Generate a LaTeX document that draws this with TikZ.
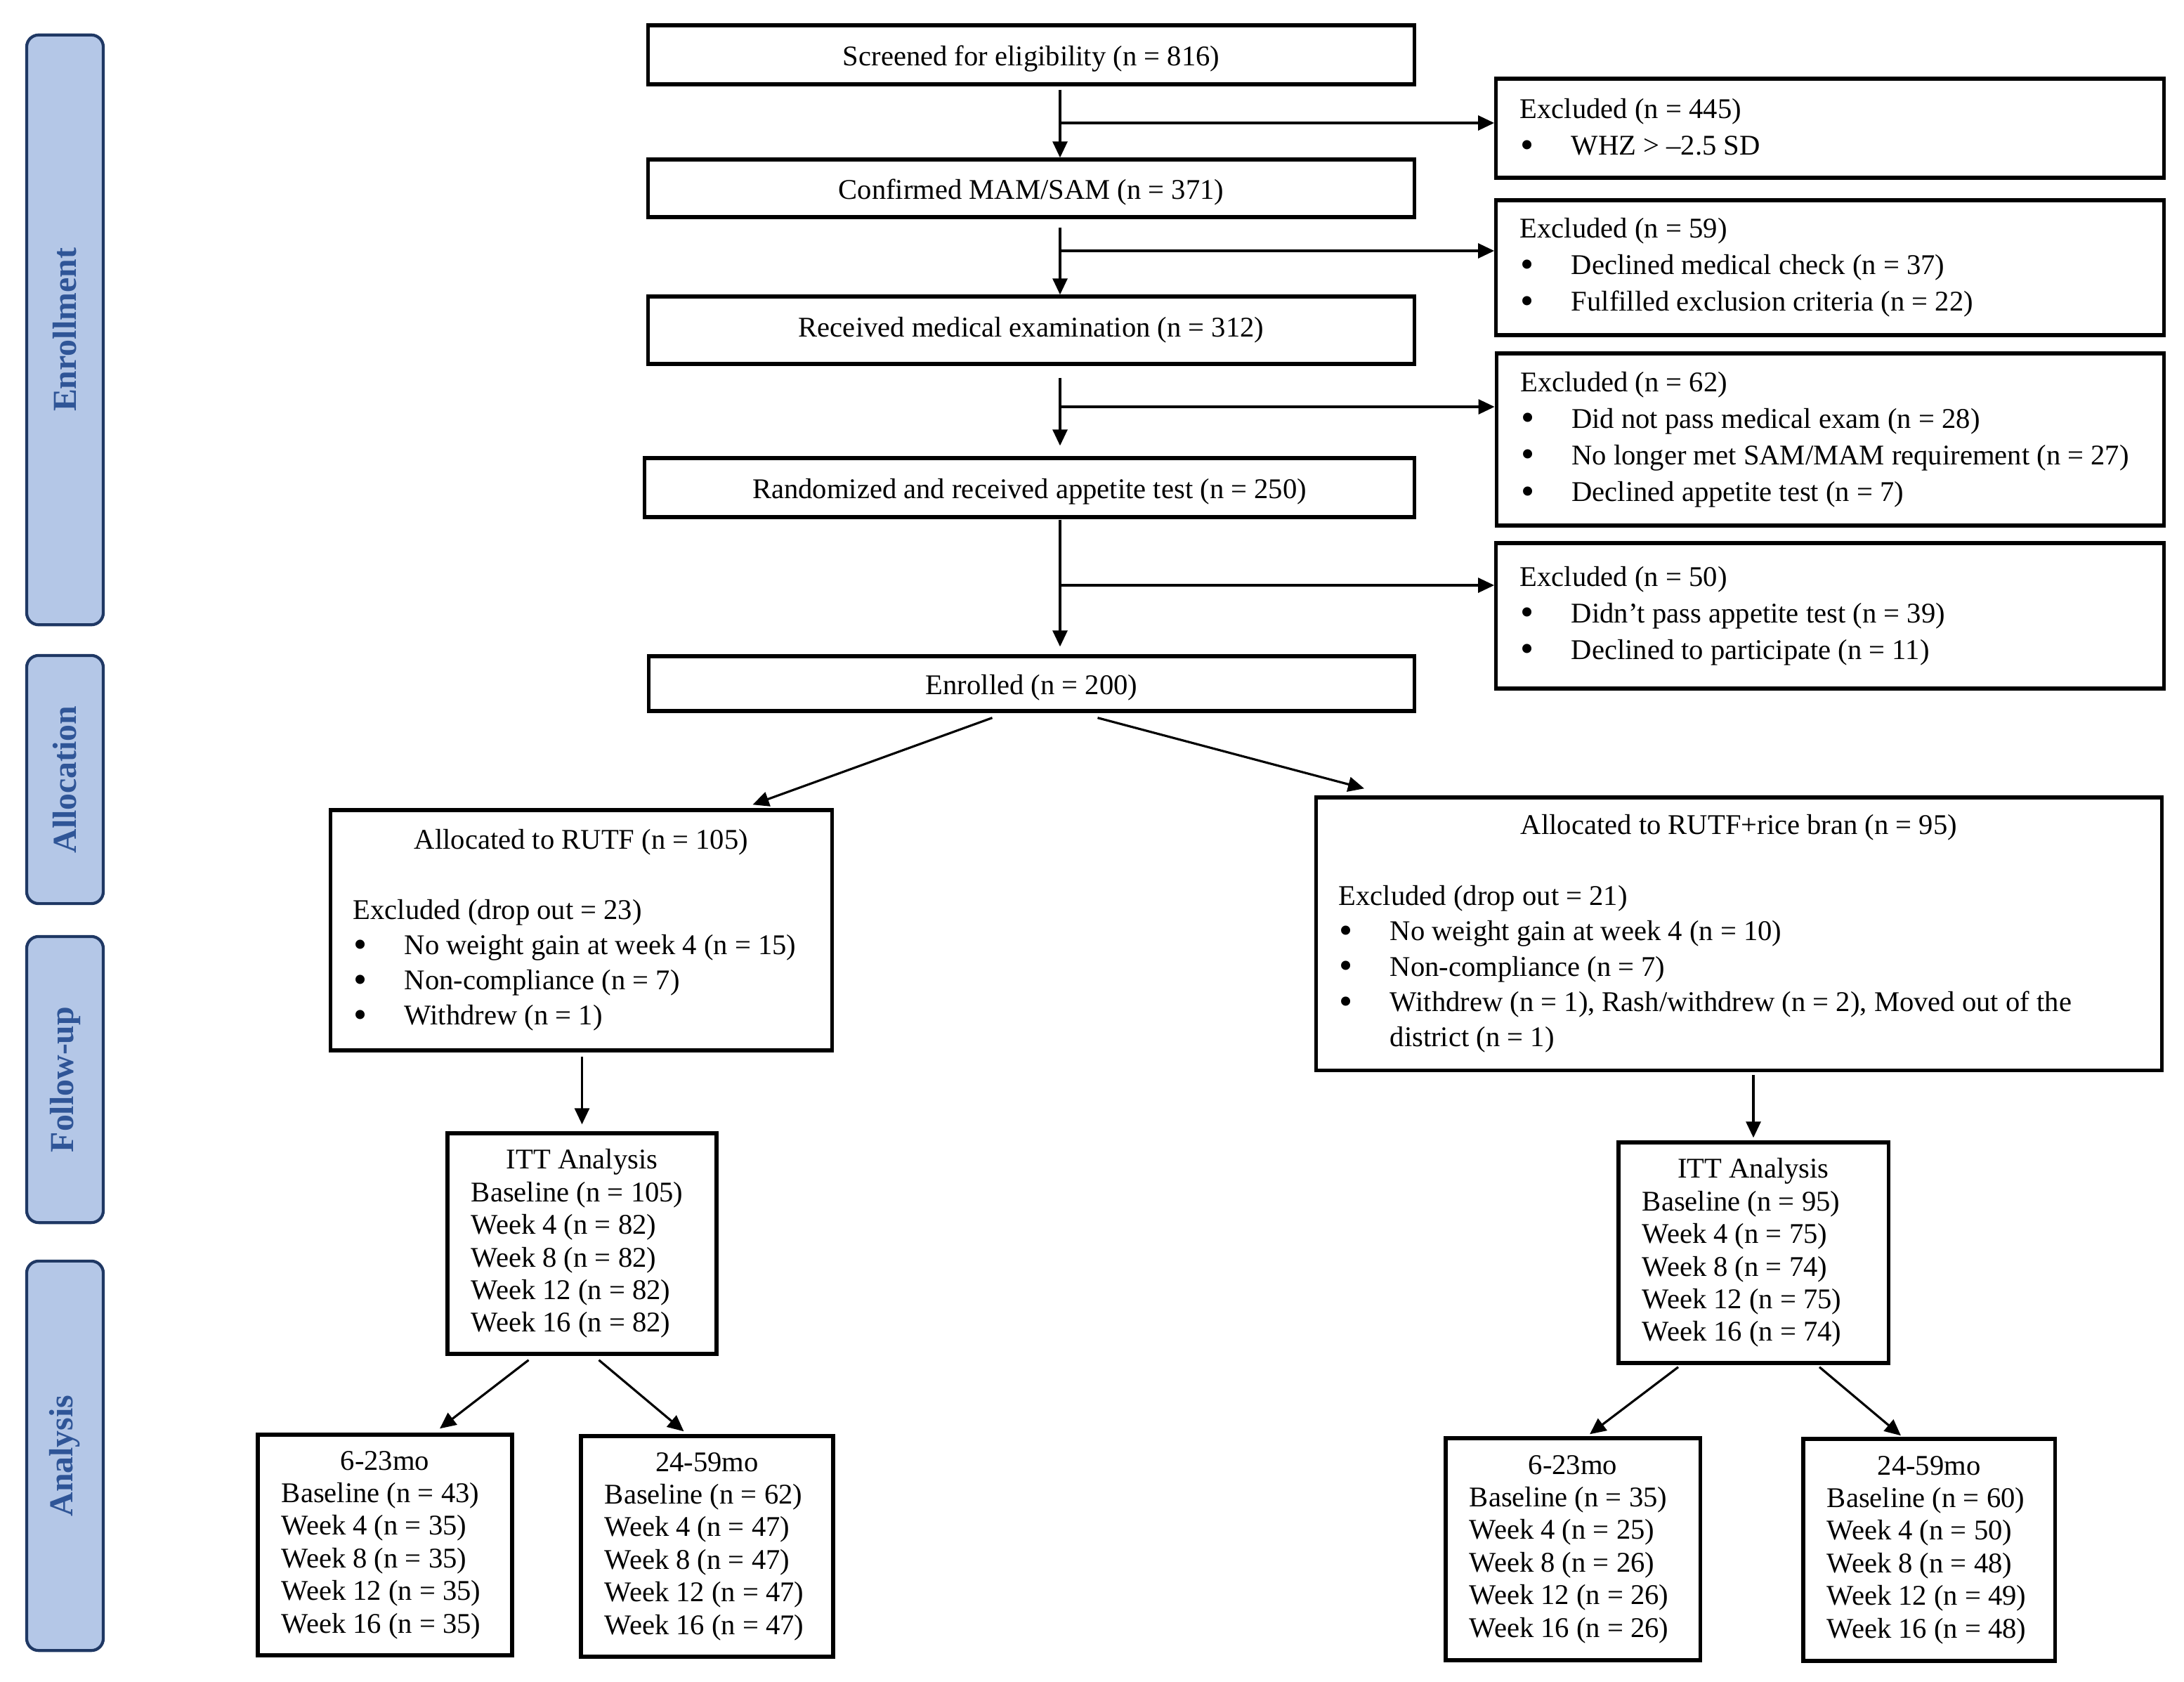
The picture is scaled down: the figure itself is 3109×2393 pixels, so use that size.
\documentclass[tikz,border=0pt]{standalone}
\usepackage{fontspec}
\setmainfont{Liberation Serif}
\usetikzlibrary{arrows.meta,calc}
\definecolor{sidefill}{RGB}{180,199,231}
\definecolor{sideline}{RGB}{31,56,100}
\definecolor{sidetext}{RGB}{47,85,151}
\newcommand{\bigbul}{\raisebox{-0.09em}{\fontsize{15.5pt}{15.5pt}\selectfont\textbullet}}
\newcommand{\bitem}[1]{\makebox[0.73cm][l]{\hspace*{0.01cm}\bigbul}#1}
\newcommand{\ctitle}[1]{\makebox[\hsize][c]{#1}}
\begin{document}
\begin{tikzpicture}[x=0.01cm,y=-0.01cm,
  every node/.style={font=\fontsize{11.55pt}{14.8pt}\selectfont},
  mainbox/.style={draw,line width=1.5pt,inner sep=0pt,minimum width=10.9cm},
  lowtext/.style={text height=10.6pt,text depth=2pt},
  exbox/.style={draw,line width=1.5pt,align=flush left,text width=8.82cm,inner xsep=0.34cm,inner ysep=0pt},
  allocbox/.style={draw,line width=1.5pt,align=flush left,inner xsep=0.32cm,inner ysep=0pt,
     font=\fontsize{11.55pt}{14.3pt}\selectfont},
  agebox/.style={draw,line width=1.5pt,align=flush left,inner xsep=0.34cm,inner ysep=0pt,minimum height=3.14cm,
     font=\fontsize{11.55pt}{13.2pt}\selectfont},
  sidebox/.style={draw=sideline,line width=1.2pt,fill=sidefill,rounded corners=0.17cm,rotate=90,
     minimum height=1.09cm,inner sep=0pt,text=sidetext,font=\fontsize{13.6pt}{16pt}\selectfont\bfseries},
  conn/.style={line width=0.9pt,-{Triangle[length=0.23cm,width=0.21cm]}}
]
\fill[white] (0,0) rectangle (3109,2393);
\useasboundingbox (0,0) rectangle (3109,2393);

% side labels
\node[sidebox,minimum width=8.39cm] (sEnr) at (92.5,469.5) {Enrollment};
\node[sidebox,minimum width=3.53cm] (sAll) at (92.5,1109.5) {Allocation};
\node[sidebox,minimum width=4.07cm] (sFol) at (92.5,1536.5) {Follow-up};
\node[sidebox,minimum width=5.54cm] (sAna) at (92.5,2072) {Analysis};

% main column
\node[mainbox,lowtext,minimum height=0.84cm] (scr) at (1468,78) {Screened for eligibility (n = 816)};
\node[mainbox,lowtext,minimum height=0.82cm] (conf) at (1468,268) {Confirmed MAM/SAM (n = 371)};
\node[mainbox,minimum height=0.96cm] (rec) at (1468,470) {Received medical examination (n = 312)};
\node[mainbox,lowtext,minimum height=0.84cm,minimum width=10.95cm] (rand) at (1465.5,694) {Randomized and received appetite test (n = 250)};
\node[mainbox,lowtext,minimum height=0.78cm] (enr) at (1468.5,973) {Enrolled (n = 200)};

% excluded boxes
\node[exbox,minimum height=1.41cm] (ex1) at (2605,182.5) {Excluded (n = 445)\\
\bitem{WHZ > –2.5 SD}};
\node[exbox,minimum height=1.92cm] (ex2) at (2605,381) {Excluded (n = 59)\\
\bitem{Declined medical check (n = 37)}\\
\bitem{Fulfilled exclusion criteria (n = 22)}};
\node[exbox,minimum height=2.45cm] (ex3) at (2605.5,625.5) {Excluded (n = 62)\\
\bitem{Did not pass medical exam (n = 28)}\\
\bitem{No longer met SAM/MAM requirement (n = 27)}\\
\bitem{Declined appetite test (n = 7)}};
\node[exbox,minimum height=2.07cm] (ex4) at (2605,876.5) {Excluded (n = 50)\\
\bitem{Didn’t pass appetite test (n = 39)}\\
\bitem{Declined to participate (n = 11)}};

% allocation boxes
\node[allocbox,text width=6.49cm,minimum height=3.42cm] (rutf) at (827.5,1324) {\ctitle{Allocated to RUTF (n = 105)}\\[14pt]
Excluded (drop out = 23)\\
\bitem{No weight gain at week 4 (n = 15)}\\
\bitem{Non-compliance (n = 7)}\\
\bitem{Withdrew (n = 1)}};
\node[allocbox,text width=11.39cm,minimum height=3.88cm] (rice) at (2475.5,1329) {\ctitle{Allocated to RUTF+rice bran (n = 95)}\\[14.3pt]
Excluded (drop out = 21)\\
\bitem{No weight gain at week 4 (n = 10)}\\
\bitem{Non-compliance (n = 7)}\\
\bitem{Withdrew (n = 1), Rash/withdrew (n = 2), Moved out of the}\\
\hspace*{0.73cm}district (n = 1)};

% ITT boxes
\node[agebox,text width=3.15cm] (ittL) at (828.5,1770) {\ctitle{ITT Analysis}\\
Baseline (n = 105)\\ Week 4 (n = 82)\\ Week 8 (n = 82)\\ Week 12 (n = 82)\\ Week 16 (n = 82)};
\node[agebox,text width=3.16cm] (ittR) at (2496,1783) {\ctitle{ITT Analysis}\\
Baseline (n = 95)\\ Week 4 (n = 75)\\ Week 8 (n = 74)\\ Week 12 (n = 75)\\ Week 16 (n = 74)};

% age group boxes
\node[agebox,text width=2.94cm] (L1) at (548,2199) {\ctitle{6-23mo}\\
Baseline (n = 43)\\ Week 4 (n = 35)\\ Week 8 (n = 35)\\ Week 12 (n = 35)\\ Week 16 (n = 35)};
\node[agebox,text width=2.91cm] (L2) at (1006.5,2201) {\ctitle{24-59mo}\\
Baseline (n = 62)\\ Week 4 (n = 47)\\ Week 8 (n = 47)\\ Week 12 (n = 47)\\ Week 16 (n = 47)};
\node[agebox,text width=2.94cm,minimum height=3.16cm] (R1) at (2239,2205) {\ctitle{6-23mo}\\
Baseline (n = 35)\\ Week 4 (n = 25)\\ Week 8 (n = 26)\\ Week 12 (n = 26)\\ Week 16 (n = 26)};
\node[agebox,text width=2.90cm,minimum height=3.16cm] (R2) at (2746,2206) {\ctitle{24-59mo}\\
Baseline (n = 60)\\ Week 4 (n = 50)\\ Week 8 (n = 48)\\ Week 12 (n = 49)\\ Week 16 (n = 48)};

% spine connectors
\coordinate (sp) at (1509,0);
\draw[conn] ($(scr.south -| sp)+(0,5)$) -- (conf.north -| sp);
\coordinate (b1) at (1509,175);
\draw[conn] (b1) -- (b1 -| ex1.west);
\draw[conn] ($(conf.south -| sp)+(0,12)$) -- (rec.north -| sp);
\coordinate (b2) at (1509,357);
\draw[conn] (b2) -- (b2 -| ex2.west);
\draw[conn] ($(rec.south -| sp)+(0,17)$) -- ($(rand.north -| sp)+(0,-15)$);
\coordinate (b3) at (1509,579);
\draw[conn] (b3) -- (b3 -| ex3.west);
\draw[conn] ($(rand.south -| sp)+(0,1)$) -- ($(enr.north -| sp)+(0,-11)$);
\coordinate (b4) at (1509,833);
\draw[conn] (b4) -- (b4 -| ex4.west);

% allocation
\draw[conn] ($(enr.south)+(-56,7)$) -- ($(rutf.north)+(244,-5)$);
\draw[conn] ($(enr.south)+(94,7)$) -- ($(rice.north west)+(71,-10)$);

% follow-up
\draw[conn] ($(ittL.north |- rutf.south)+(0,6)$) -- ($(ittL.north)+(0,-10)$);
\draw[conn] ($(ittR.north |- rice.south)+(0,4)$) -- ($(ittR.north)+(0,-4)$);

% analysis
\draw[conn] ($(ittL.south)+(-76,6)$) -- ($(L1.north)+(78,-6)$);
\draw[conn] ($(ittL.south)+(24,6)$) -- ($(L2.north)+(-33,-4)$);
\draw[conn] ($(ittR.south)+(-107,3)$) -- ($(R1.north)+(24,-3)$);
\draw[conn] ($(ittR.south)+(94,3)$) -- ($(R2.north)+(-40,-2)$);
\end{tikzpicture}
\end{document}
